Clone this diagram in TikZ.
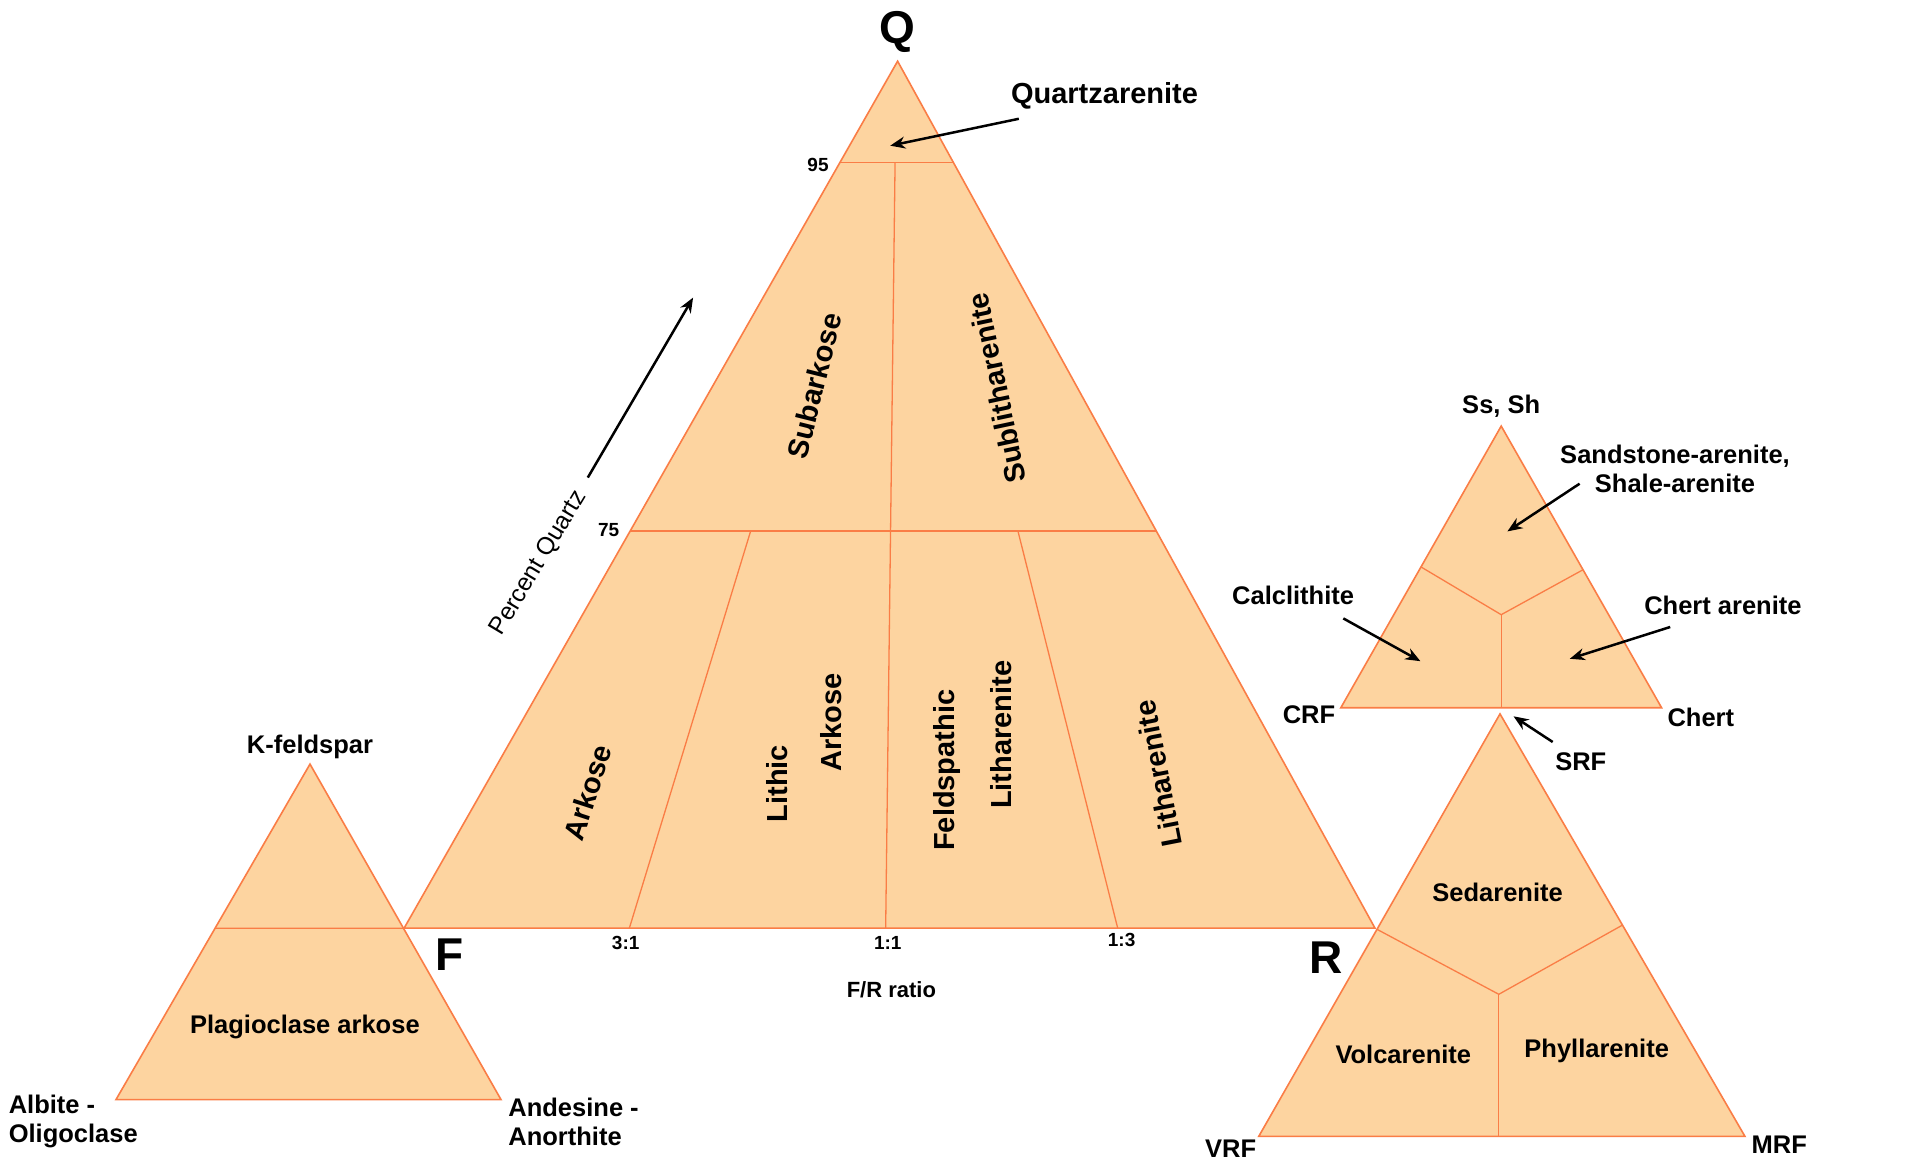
\documentclass[tikz,border=0pt]{standalone}
\usepackage{fontspec}
\setmainfont{Liberation Sans}
\usetikzlibrary{positioning,calc,arrows.meta}
\definecolor{peach}{RGB}{253,212,160}
\definecolor{rim}{RGB}{250,125,70}

\begin{document}
\begin{tikzpicture}[x=1pt, y=1pt, every node/.style={inner sep=0pt}]
    \tikzset{
        region/.style = {fill=peach, draw=rim, line width=1.6pt, line join=miter},
        divider/.style = {draw=rim, line width=1.3pt},
        bigtag/.style = {font=\fontsize{46}{50}\selectfont\bfseries},
        field/.style = {font=\fontsize{29}{34}\selectfont\bfseries},
        tag/.style = {font=\fontsize{25.5}{29}\selectfont\bfseries, align=center},
        tick/.style = {font=\fontsize{19}{22}\selectfont\bfseries},
        arrow/.style = {line width=2.5pt, -{Stealth[length=15pt, width=12pt]}},
    }
    \path [fill=white, use as bounding box] (0,0) rectangle (1920,1168);

    % main QFR triangle
    \coordinate (Q) at (897.6,1106.8);
    \coordinate (F) at (404.1,239.8);
    \coordinate (R) at (1375,239.8);
    \draw [region] (Q) -- (F) -- (R) -- cycle;

    \coordinate (q95l) at ($(Q)!0.117!(F)$);
    \coordinate (q95r) at ($(Q)!0.117!(R)$);
    \coordinate (q75l) at ($(Q)!0.542!(F)$);
    \coordinate (q75r) at ($(Q)!0.542!(R)$);
    \draw [divider] (q95l) -- (q95r);
    \draw [divider] (q75l) -- (q75r);
    \draw [divider] ($(q95l)!0.486!(q95r)$) -- ($(F)!0.496!(R)$);
    \draw [divider] ($(q75l)!0.229!(q75r)$) -- ($(F)!0.232!(R)$);
    \draw [divider] ($(q75l)!0.737!(q75r)$) -- ($(F)!0.735!(R)$);

    \node (qtag) [bigtag, above=8pt of Q] {Q};
    \node (ftag) [bigtag] at (449.4,212.9) {F};
    \node (rtag) [bigtag] at (1326.1,210.4) {R};
    \node (t95) [tick] at (818,1003) {95};
    \node (t75) [tick] at (608.6,638) {75};
    \node (t31) [tick] at (625.7,225.1) {3:1};
    \node (t11) [tick] at (887.8,225.1) {1:1};
    \node (t13) [tick] at (1121.6,227.6) {1:3};
    \node (ratio) [tick, font=\fontsize{22}{26}\selectfont\bfseries] at (891.4,178.6) {F/R ratio};

    \node (quartzarenite) [field] at (1104.5,1072.5) {Quartzarenite};
    \coordinate (qzTail) at (1018.8,1049.2);
    \coordinate (qzTip) at (890.2,1022.3);
    \draw [arrow] (qzTail) -- (qzTip);

    \node (subarkose) [field, rotate=76] at (814.3,782.3) {Subarkose};
    \node (sublith) [field, rotate=102] at (996.7,779.8) {Sublitharenite};
    \node (arkose) [field, rotate=72] at (587.8,375.7) {Arkose};
    \node (lithic) [field, rotate=90] at (777.5,384.3) {Lithic};
    \node (lithark) [field, rotate=90] at (831.4,445.5) {Arkose};
    \node (feldsp) [field, rotate=90] at (946.5,397.8) {Feldspathic};
    \node (feldlith) [field, rotate=90] at (1001.6,433.3) {Litharenite};
    \node (lith) [field, rotate=101] at (1158.4,394.1) {Litharenite};

    \node (pctq) [rotate=59, font=\fontsize{24.4}{28}\selectfont] at (538.8,604.7) {Percent Quartz};
    \coordinate (pqTail) at (587.8,690.4);
    \coordinate (pqTip) at (693.1,870.4);
    \draw [arrow] (pqTail) -- (pqTip);

    % feldspar triangle
    \coordinate (kfs) at (310,403.9);
    \coordinate (alb) at (116,68.4);
    \coordinate (and) at (501,68.4);
    \draw [region] (kfs) -- (alb) -- (and) -- cycle;
    \draw [divider] ($(kfs)!0.4891!(alb)$) -- (F);
    \node (kfstag) [tag, above=5pt of kfs] {K-feldspar};
    \node (plag) [tag] at (304.9,140.6) {Plagioclase arkose};
    \node (albtag) [tag, align=left, anchor=west] at (8.6,46.4) {Albite -\\Oligoclase};
    \node (andtag) [tag, align=left, anchor=west] at (508.2,46.4) {Andesine -\\Anorthite};

    % sedimentary rock fragment triangle
    \coordinate (ssh) at (1501.2,741.9);
    \coordinate (crf) at (1340.8,460.2);
    \coordinate (cht) at (1661.6,460.2);
    \coordinate (sedmid) at (1501.2,553.3);
    \draw [region] (ssh) -- (crf) -- (cht) -- cycle;
    \draw [divider] ($(ssh)!0.5!(crf)$) -- (sedmid) -- ($(ssh)!0.51!(cht)$);
    \draw [divider] (sedmid) -- ($(crf)!0.5!(cht)$);
    \node (sshtag) [tag, above=8pt of ssh] {Ss, Sh};
    \node (crftag) [tag] at (1309,452.9) {CRF};
    \node (chttag) [tag] at (1700.8,450.4) {Chert};
    \node (sstone) [tag] at (1675,699) {Sandstone-arenite,\\Shale-arenite};
    \node (calc) [tag] at (1293.1,572.9) {Calclithite};
    \node (chertar) [tag] at (1722.9,563.1) {Chert arenite};
    \node (srftag) [tag] at (1580.8,406.4) {SRF};
    \coordinate (ssTail) at (1579.6,684.3);
    \coordinate (ssTip) at (1507.4,636.6);
    \coordinate (caTail) at (1343.3,549.6);
    \coordinate (caTip) at (1420.4,506.8);
    \coordinate (chTail) at (1670.2,541);
    \coordinate (chTip) at (1569.8,509.2);
    \coordinate (srTail) at (1552.7,426);
    \coordinate (srTip) at (1513.5,451.7);
    \draw [arrow] (ssTail) -- (ssTip);
    \draw [arrow] (caTail) -- (caTip);
    \draw [arrow] (chTail) -- (chTip);
    \draw [arrow] (srTail) -- (srTip);

    % rock fragment triangle
    \coordinate (srf) at (1500,454.1);
    \coordinate (vrf) at (1258.8,31.7);
    \coordinate (mrf) at (1744.9,31.7);
    \coordinate (rfmid) at (1498.8,173.7);
    \draw [region] (srf) -- (vrf) -- (mrf) -- cycle;
    \draw [divider] ($(srf)!0.51!(vrf)$) -- (rfmid) -- ($(srf)!0.5!(mrf)$);
    \draw [divider] (rfmid) -- (rfmid |- vrf);
    \node (sedar) [tag] at (1497.6,275.3) {Sedarenite};
    \node (volc) [tag] at (1403.3,113.7) {Volcarenite};
    \node (phyll) [tag] at (1596.7,117.4) {Phyllarenite};
    \node (vrftag) [tag] at (1230.6,19.4) {VRF};
    \node (mrftag) [tag] at (1779.2,23.1) {MRF};
\end{tikzpicture}
\end{document}
